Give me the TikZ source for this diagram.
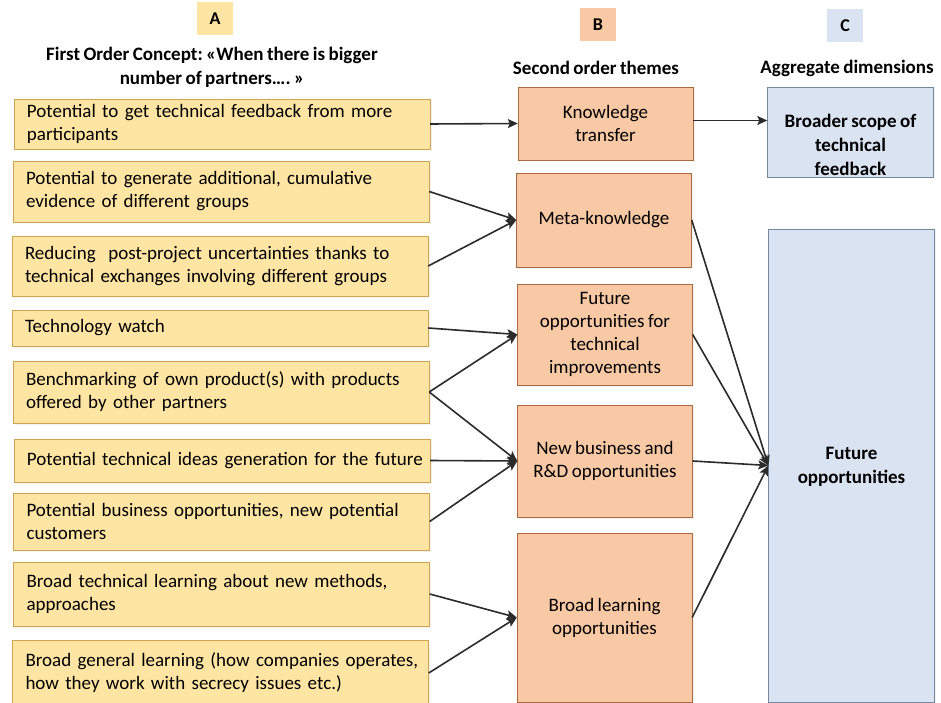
\documentclass[tikz,border=0pt]{standalone}
\usepackage{fontspec}
\setmainfont{Carlito}[WordSpace=0.8]
\usetikzlibrary{arrows.meta,positioning,shadows}
\frenchspacing

\definecolor{conceptfill}{HTML}{FFE5A3}
\definecolor{conceptdraw}{HTML}{CFA54F}
\definecolor{themefill}{HTML}{F8C9A4}
\definecolor{themedraw}{HTML}{A86A3E}
\definecolor{dimfill}{HTML}{DAE3F1}
\definecolor{dimdraw}{HTML}{7688A0}
\definecolor{linkcol}{HTML}{2B2B2B}

\tikzset{
  softshadow/.style={drop shadow={shadow xshift=1.5pt,shadow yshift=-1.5pt,opacity=0.10}},
  concept/.style={draw=conceptdraw,fill=conceptfill,softshadow,
    text width=390pt,inner xsep=13pt,align=left},
  theme/.style={draw=themedraw,fill=themefill,softshadow,
    minimum width=175pt,align=center},
  dimbox/.style={draw=dimdraw,fill=dimfill,softshadow,minimum width=166pt},
  letterbox/.style={minimum width=36pt,minimum height=33pt,font=\fontsize{18}{20}\selectfont\bfseries},
  header/.style={align=center,font=\fontsize{19}{24}\selectfont\bfseries},
  link/.style={draw=linkcol,line width=1.6pt,-{Stealth[length=10pt,width=9pt,inset=2pt]}}
}

\begin{document}
\begin{tikzpicture}[x=1pt,y=-1pt,font=\fontsize{19}{23}\selectfont]
  \useasboundingbox (0,0) rectangle (941,703);
  % column headers
  \node [letterbox,fill=conceptfill] (hdA) at (215,19) {A};
  \node [letterbox,fill=themefill] (hdB) at (598,25) {B};
  \node [letterbox,fill=dimfill] (hdC) at (845,26) {C};
  \node [header] (hdfirst) at (212,67)
    {First Order Concept: «When there is bigger\\number of partners…. »};
  \node [header] (hdsecond) at (596,68) {Second order themes};
  \node [header] (hdagg) at (847,68) {Aggregate dimensions};
  % first order concepts
  \node [concept,minimum height=50pt] (feedback) at (222,124)
    {Potential to get technical feedback from more\\participants};
  \node [concept,minimum height=61pt] (evidence) at (221,191.5)
    {Potential to generate additional, cumulative\\evidence of different groups};
  \node [concept,minimum height=60pt] (uncert) at (220,266)
    {Reducing\ \ post-project uncertainties thanks to\\technical exchanges involving different groups};
  \node [concept,minimum height=36pt] (watch) at (220,328)
    {Technology watch};
  \node [concept,minimum height=62pt] (bench) at (221,392)
    {Benchmarking of own product(s) with products\\offered by other partners};
  \node [concept,minimum height=43pt] (ideas) at (222,460.5)
    {\mbox{Potential technical ideas generation for the future}};
  \node [concept,minimum height=57pt] (business) at (221.5,521.5)
    {Potential business opportunities, new potential\\customers};
  \node [concept,minimum height=64pt] (techlearn) at (221.5,594)
    {Broad technical learning about new methods,\\approaches};
  \node [concept,minimum height=66pt] (genlearn) at (220.5,673)
    {\mbox{Broad general learning (how companies operates,}\\how they work with secrecy issues etc.)};
  % second order themes
  \node [theme,minimum height=73pt] (transfer) at (605.5,123.5)
    {Knowledge\\transfer};
  \node [theme,minimum height=94pt] (meta) at (604,220)
    {Meta-knowledge};
  \node [theme,minimum height=101pt] (improve) at (605,334.5)
    {Future\\opportunities for\\technical\\improvements};
  \node [theme,minimum height=112pt] (newbiz) at (605,461)
    {New business and\\R\&D opportunities};
  \node [theme,minimum height=169pt] (broad) at (604.5,617.5)
    {Broad learning\\opportunities};
  % aggregate dimensions
  \node [dimbox,minimum height=90pt] (scope) at (850.5,132) {};
  \node [header] (scopetext) at (850.5,145)
    {Broader scope of\\technical\\feedback};
  \node [dimbox,minimum height=473pt] (future) at (851.5,465.5) {};
  \node [header] (futuretext) at (851.5,466.5)
    {Future\\opportunities};
  % links to second order themes
  \draw [link] (feedback.east) -- (transfer.west);
  \draw [link] (evidence.east) -- (meta.west);
  \draw [link] (uncert.east) -- (meta.west);
  \draw [link] (watch.east) -- (improve.west);
  \draw [link] (bench.east) -- (improve.west);
  \draw [link] (bench.east) -- (newbiz.west);
  \draw [link] (ideas.east) -- (newbiz.west);
  \draw [link] (business.east) -- (newbiz.west);
  \draw [link] (techlearn.east) -- (broad.west);
  \draw [link] (genlearn.east) -- (broad.west);
  % links to aggregate dimensions
  \draw [link] ([yshift=3pt]transfer.east) -- ([yshift=3pt]transfer.east -| scope.west);
  \draw [link] (meta.east) -- (future.west);
  \draw [link] (improve.east) -- (future.west);
  \draw [link] (newbiz.east) -- (future.west);
  \draw [link] (broad.east) -- (future.west);
\end{tikzpicture}
\end{document}
